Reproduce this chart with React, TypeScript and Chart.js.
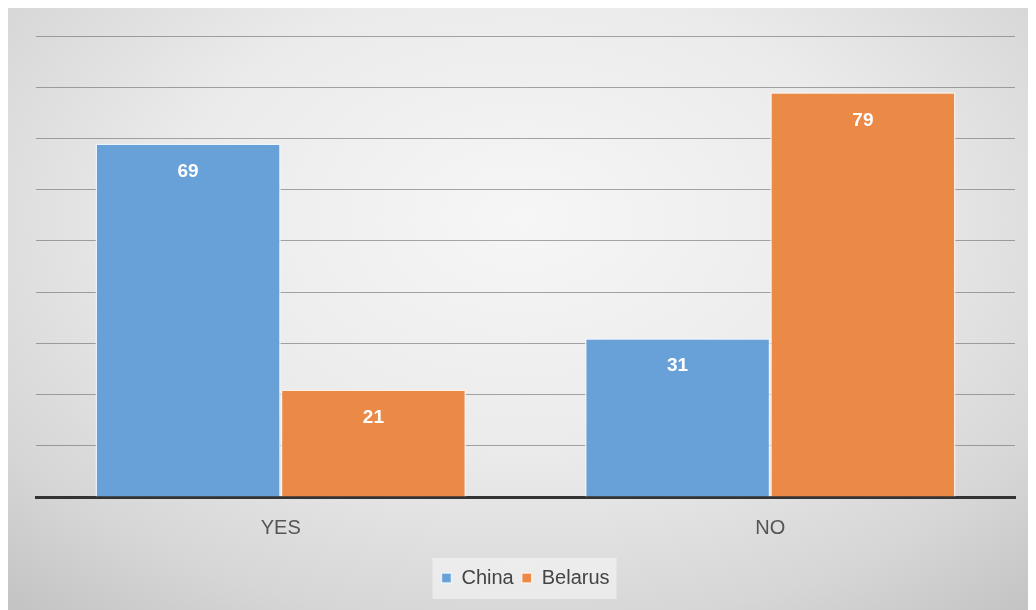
import React, { useEffect, useRef } from "react";
import { Chart, registerables } from "chart.js";

Chart.register(...registerables);

const categories = ["YES", "NO"];
const seriesNames = ["China", "Belarus"];
const chinaValues = [69, 31];
const belarusValues = [21, 79];
const seriesColors = ["#67A1D8", "#EB8946"];

const FONT = "'Liberation Sans', Arial, Helvetica, sans-serif";

const bgPlugin = {
  id: "bgAndLegendBox",
  beforeDraw(chart: any) {
    const ctx = chart.ctx;
    const lg = chart.legend;
    if (lg && lg.legendHitBoxes && lg.legendHitBoxes.length) {
      const boxes = lg.legendHitBoxes;
      let l = Infinity, r = -Infinity, t = Infinity, b = -Infinity;
      for (const h of boxes) {
        l = Math.min(l, h.left);
        r = Math.max(r, h.left + h.width);
        t = Math.min(t, h.top);
        b = Math.max(b, h.top + h.height);
      }
      ctx.save();
      ctx.fillStyle = "rgba(255,255,255,0.45)";
      ctx.fillRect(l - 9, t - 10, r - l + 16, b - t + 21);
      ctx.restore();
    }
  },
};

const labelPlugin = {
  id: "barLabels",
  afterDatasetsDraw(chart: any) {
    const ctx = chart.ctx;
    ctx.save();
    ctx.fillStyle = "#ffffff";
    ctx.font = "bold 19px " + FONT;
    ctx.textAlign = "center";
    ctx.textBaseline = "middle";
    chart.data.datasets.forEach((ds: any, i: number) => {
      const meta = chart.getDatasetMeta(i);
      meta.data.forEach((bar: any, j: number) => {
        ctx.fillText(String(ds.data[j]), bar.x, bar.y + 28);
      });
    });
    ctx.restore();
  },
};

export default function App() {
  const ref = useRef<HTMLCanvasElement>(null);
  useEffect(() => {
    if (!ref.current) return;
    const chart = new Chart(ref.current, {
      type: "bar",
      data: {
        labels: categories,
        datasets: [
          {
            label: seriesNames[0],
            data: chinaValues,
            backgroundColor: seriesColors[0],
            borderColor: "rgba(235,245,255,0.9)",
            borderWidth: 1.5,
            categoryPercentage: 0.757,
            barPercentage: 1,
          },
          {
            label: seriesNames[1],
            data: belarusValues,
            backgroundColor: seriesColors[1],
            borderColor: "rgba(255,240,230,0.9)",
            borderWidth: 1.5,
            categoryPercentage: 0.757,
            barPercentage: 1,
          },
        ],
      },
      options: {
        animation: false,
        responsive: false,
        maintainAspectRatio: false,
        layout: { padding: { left: 28, right: 21, top: 28, bottom: 12 } },
        plugins: {
          tooltip: { enabled: false },
          legend: {
            position: "bottom",
            labels: {
              boxWidth: 10,
              boxHeight: 10,
              padding: 8,
              color: "#444",
              font: { size: 20, family: FONT },
            },
          },
        },
        scales: {
          x: {
            grid: { display: false },
            border: { display: true, color: "#333", width: 3 },
            ticks: {
              color: "#555",
              padding: 11,
              font: { size: 20, family: FONT },
            },
            afterFit: (s: any) => {
              s.height = 63;
            },
          },
          y: {
            min: 0,
            max: 90,
            ticks: { display: false, stepSize: 10 },
            border: { display: false },
            grid: { color: "rgba(110,110,110,0.6)", lineWidth: 1, drawTicks: false },
          },
        },
      },
      plugins: [bgPlugin, labelPlugin],
    });
    return () => chart.destroy();
  }, []);
  return (
    <div
      style={{
        width: 1028,
        height: 602,
        background:
          "radial-gradient(ellipse 75% 85% at 50% 35%, #f6f6f6 0%, #ebebeb 45%, #d6d6d6 80%, #c4c4c4 100%)",
      }}
    >
      <canvas ref={ref} width={1028} height={602} />
    </div>
  );
}
